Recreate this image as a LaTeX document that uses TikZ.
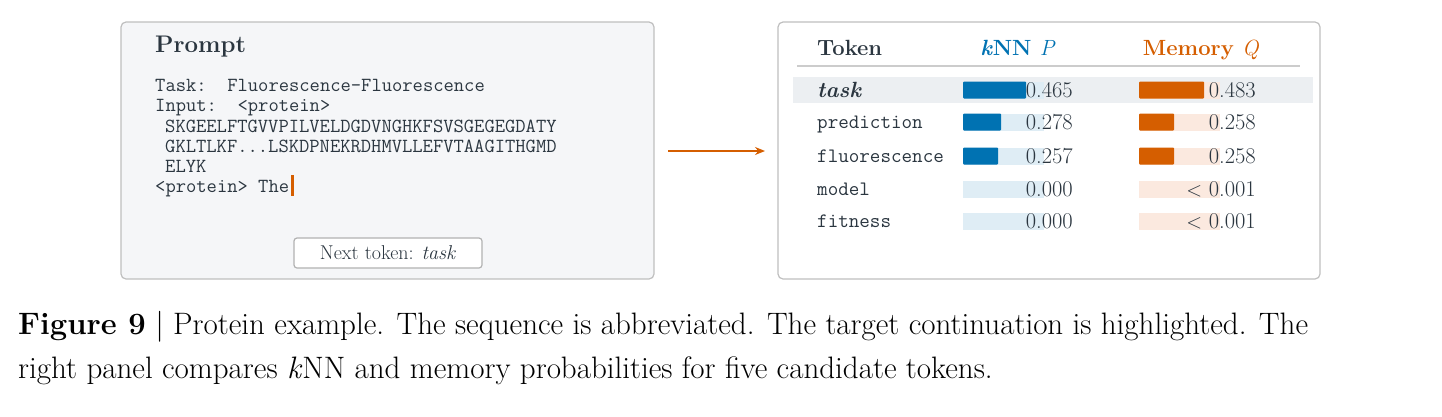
\documentclass[tikz,border=0pt]{standalone}
\usepackage{fontspec}
\usetikzlibrary{arrows.meta}
\definecolor{ink}{HTML}{2B3640}
\definecolor{bl}{HTML}{0072B2}
\definecolor{or}{HTML}{D55E00}
\definecolor{lbl}{HTML}{DFEDF5}
\definecolor{lor}{HTML}{FBE9DF}
\definecolor{panel}{HTML}{F5F6F8}
\definecolor{hl}{HTML}{ECEFF2}
\begin{document}
\begin{tikzpicture}[x=1pt,y=-1pt,
  panelbox/.style={draw=black!25,line width=1.2pt,fill=panel,rounded corners=5pt},
  mono/.style={anchor=base west,inner sep=0,text=ink,font=\fontsize{20}{20}\ttfamily},
  num/.style={anchor=base east,inner sep=0,text=ink,font=\fontsize{22.5}{22}\selectfont},
  tok/.style={anchor=base west,inner sep=0,text=ink,font=\fontsize{20.5}{20}\ttfamily},
  hdr/.style={anchor=base,inner sep=0,font=\fontsize{22}{24}\bfseries}]
\useasboundingbox (0,0) rectangle (1442,416);
% left panel
\draw[panelbox] (121,22) rectangle (654,279);
\node[anchor=base west,inner sep=0,text=ink,font=\fontsize{24}{24}\bfseries] (pt) at (155,52) {Prompt};
\node[mono] (l1) at (155,91) {Task:\ \ Fluorescence-Fluorescence};
\node[mono] (l2) at (155,111) {Input:\ \ <protein>};
\node[mono] (l3) at (165,132) {SKGEELFTGVVPILVELDGDVNGHKFSVSGEGEGDATY};
\node[mono] (l4) at (165,152) {GKLTLKF...LSKDPNEKRDHMVLLEFVTAAGITHGMD};
\node[mono] (l5) at (165,172) {ELYK};
\node[mono] (l6) at (155,192) {<protein> The};
\fill[or] (l6.base east)++(2,4) rectangle ++(3,-21);
\node[draw=black!30,line width=1.2pt,fill=white,rounded corners=3pt,inner sep=0,minimum width=188pt,minimum height=30pt,text=ink,font=\fontsize{20}{20}\selectfont] (nt) at (388,253) {Next token: \textit{task}};
% arrow
\coordinate (a1) at (668,151);
\coordinate (a2) at (765,151);
\draw[or,line width=1.5pt,-{Stealth[length=10pt,width=8pt]}] (a1) -- (a2);
% right panel
\draw[panelbox,fill=white] (778,22) rectangle (1320,279);
\node[hdr,text=ink,anchor=base west] (th) at (817,55) {Token};
\node[hdr,text=bl] (kh) at (1018,55) {\textit{k}NN \textit{\mdseries P}};
\node[hdr,text=or] (mh) at (1201,55) {Memory \textit{\mdseries Q}};
\draw[black!20,line width=1.2pt] (797,66) -- (1300,66);
\fill[hl] (793,77) rectangle (1313,103);
% bars
\foreach \y/\b/\o in {90/63/65,122/38/35,156/35/35,189/0/0,221/0/0}{
  \fill[lbl] (963,\y-8.5) rectangle ++(81,17);
  \fill[lor] (1139,\y-8.5) rectangle ++(81,17);
  \ifdim\b pt>0pt \fill[bl,rounded corners=1pt] (963,\y-8.5) rectangle ++(\b,17);\fi
  \ifdim\o pt>0pt \fill[or,rounded corners=1pt] (1139,\y-8.5) rectangle ++(\o,17);\fi
}
\node[anchor=base west,inner sep=0,text=ink,font=\fontsize{22}{22}\bfseries\itshape] (r1) at (817,97) {task};
\node[tok] (r2) at (817,128) {prediction};
\node[tok] (r3) at (817,162) {fluorescence};
\node[tok] (r4) at (817,195) {model};
\node[tok] (r5) at (817,227) {fitness};
\node[num] (p1) at (1073,97) {0.465};
\node[num] (p2) at (1073,129) {0.278};
\node[num] (p3) at (1073,163) {0.257};
\node[num] (p4) at (1073,196) {0.000};
\node[num] (p5) at (1073,228) {0.000};
\node[num] (q1) at (1256,97) {0.483};
\node[num] (q2) at (1256,129) {0.258};
\node[num] (q3) at (1256,163) {0.258};
\node[num] (q4) at (1256,196) {$<$ 0.001};
\node[num] (q5) at (1256,228) {$<$ 0.001};
% caption
\node[anchor=base west,inner sep=0,font=\fontsize{31}{30}\selectfont] (c1) at (18,334) {\textbf{Figure 9} | Protein example. The sequence is abbreviated. The target continuation is highlighted. The};
\node[anchor=base west,inner sep=0,font=\fontsize{31}{30}\selectfont] (c2) at (18,378) {right panel compares \textit{k}NN and memory probabilities for five candidate tokens.};
\end{tikzpicture}
\end{document}
